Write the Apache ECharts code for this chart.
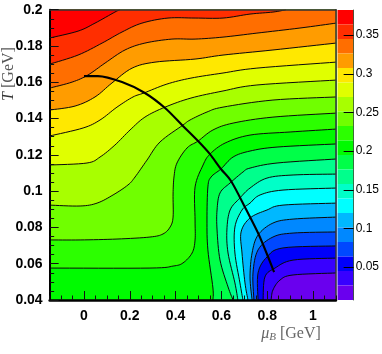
<!DOCTYPE html>
<html><head><meta charset="utf-8">
<style>html,body{margin:0;padding:0;background:#fff}#c{width:382px;height:354px}</style>
<script src="https://cdn.jsdelivr.net/npm/echarts@6/dist/echarts.min.js"></script>
</head><body><div id="c"></div>
<script>
const muTicks=[0,0.2,0.4,0.6,0.8,1];
const barTicks=[0.05,0.1,0.15,0.2,0.25,0.3,0.35];
const barEdges=[0.3825,0.36375,0.345,0.32625,0.3075,0.28875,0.27,0.25125,0.2325,0.21375,0.195,0.17625,0.1575,0.13875,0.12,0.10125,0.0825,0.06375,0.045,0.02625,0.0075];
const bandColors=['#ff0000','#ff2e00','#ff6e00','#ff9c00','#ffe800','#e0ff00','#a8ff00','#70ff00','#2cff00','#00fb00','#00ff48','#00ff8c','#00ffc8','#00ffff','#00b8ff','#0088ff','#0048ff','#0000fa','#3800ff','#6a00ee'];
const c01=[[-0.15,0.1844],[-0.026,0.1882],[0.048,0.1926],[0.135,0.1987],[0.157,0.2]];
const c02=[[-0.15,0.17],[-0.026,0.175],[0.079,0.1816],[0.166,0.1877],[0.253,0.1926],[0.367,0.1954],[0.485,0.1954],[0.607,0.1954],[0.725,0.1976],[0.825,0.1987],[0.882,0.2]];
const c03=[[-0.15,0.1568],[-0.052,0.1601],[0.017,0.164],[0.092,0.1706],[0.179,0.1778],[0.266,0.1816],[0.384,0.1838],[0.485,0.1838],[0.607,0.1849],[0.755,0.1871],[0.943,0.1899],[1.1,0.1926]];
const c04=[[-0.15,0.1447],[-0.039,0.1469],[0.048,0.1519],[0.122,0.1596],[0.21,0.1678],[0.31,0.1711],[0.485,0.1728],[0.607,0.175],[0.825,0.1778],[1.1,0.1816]];
const c05=[[-0.15,0.1304],[-0.004,0.1348],[0.07,0.1392],[0.144,0.1463],[0.214,0.1519],[0.262,0.1541],[0.362,0.159],[0.467,0.1623],[0.607,0.1651],[0.755,0.1678],[1.1,0.1711]];
const c06=[[-0.15,0.1144],[0.013,0.1155],[0.07,0.1188],[0.135,0.1254],[0.201,0.1337],[0.266,0.1408],[0.354,0.1463],[0.467,0.1513],[0.607,0.1552],[0.755,0.1585],[1.1,0.1612]];
const c07=[[-0.15,0.0923],[-0.017,0.0918],[0.057,0.0934],[0.127,0.0979],[0.192,0.1034],[0.223,0.1078],[0.275,0.1171],[0.332,0.1271],[0.432,0.1364],[0.463,0.1392],[0.537,0.1436],[0.607,0.1463],[0.825,0.1502],[1.1,0.1519]];
const c08=[[-0.15,0.0731],[-0.017,0.0731],[0.144,0.0736],[0.288,0.0747],[0.345,0.0764],[0.376,0.0802],[0.389,0.0857],[0.389,0.0984],[0.393,0.1078],[0.406,0.1155],[0.45,0.1238],[0.498,0.1276],[0.563,0.1337],[0.651,0.1375],[0.825,0.1408],[1.1,0.143]];
const c09=[[-0.15,0.0576],[0.288,0.0576],[0.389,0.0587],[0.432,0.0604],[0.472,0.0659],[0.485,0.0731],[0.485,0.0841],[0.485,0.1023],[0.52,0.1144],[0.55,0.1204],[0.616,0.1265],[0.725,0.1309],[0.9,0.1326],[1.1,0.1342]];
const c10=[[0.563,0.04],[0.563,0.0466],[0.541,0.0676],[0.537,0.0841],[0.541,0.1023],[0.555,0.1078],[0.598,0.1122],[0.651,0.1188],[0.725,0.1221],[0.843,0.1243],[1.1,0.126]];
const c11=[[0.651,0.04],[0.629,0.0472],[0.594,0.062],[0.581,0.0786],[0.581,0.0896],[0.594,0.099],[0.638,0.1045],[0.694,0.1105],[0.725,0.1127],[0.843,0.1155],[1.1,0.1177]];
const c12=[[0.672,0.04],[0.659,0.0494],[0.629,0.0659],[0.624,0.0786],[0.638,0.0896],[0.681,0.0962],[0.725,0.1017],[0.799,0.1072],[0.913,0.1089],[1.1,0.1094]];
const c13=[[0.694,0.04],[0.681,0.0494],[0.659,0.0659],[0.659,0.0802],[0.69,0.0896],[0.725,0.0934],[0.769,0.0979],[0.869,0.1006],[1.1,0.1017]];
const c14=[[0.716,0.04],[0.703,0.0494],[0.69,0.0659],[0.686,0.0775],[0.725,0.0852],[0.799,0.0896],[0.869,0.0923],[1.1,0.0934]];
const c15=[[0.734,0.04],[0.725,0.0527],[0.734,0.0659],[0.76,0.0758],[0.825,0.0824],[0.913,0.0846],[1.1,0.0857]];
const c16=[[0.742,0.04],[0.738,0.0549],[0.76,0.0676],[0.825,0.0747],[0.913,0.0769],[1.1,0.0775]];
const c17=[[0.76,0.04],[0.76,0.0549],[0.799,0.0637],[0.869,0.0687],[1.1,0.0698]];
const c18=[[0.782,0.04],[0.79,0.0527],[0.834,0.0576],[0.913,0.062],[1.1,0.0631]];
const c19=[[0.817,0.04],[0.825,0.0455],[0.856,0.051],[0.913,0.0538],[1.1,0.0549]];
const ridge=[[0,0.1634],[0.061,0.1634],[0.166,0.1601],[0.266,0.1541],[0.354,0.1458],[0.432,0.1359],[0.498,0.1276],[0.55,0.1204],[0.598,0.1122],[0.642,0.1056],[0.707,0.0901],[0.764,0.0758],[0.83,0.0554]];

const contours=[c01,c02,c03,c04,c05,c06,c07,c08,c09,c10,c11,c12,c13,c14,c15,c16,c17,c18,c19];
const muMin=-0.15,muMax=1.1,tMin=0.04,tMax=0.2;
const numFont='"Liberation Sans Narrow","Liberation Sans",Arial,sans-serif';
const serif='"Liberation Serif","DejaVu Serif",serif';

function spline(p){ // Catmull-Rom rendering of a polyline in pixels
  const out=[];
  for(let i=0;i<p.length-1;i++){
    const a=p[Math.max(i-1,0)],b=p[i],c=p[i+1],d=p[Math.min(i+2,p.length-1)];
    for(let s=0;s<8;s++){
      const t=s/8,t2=t*t,t3=t2*t;
      out.push([0,1].map(k=>0.5*(2*b[k]+(c[k]-a[k])*t+(2*a[k]-5*b[k]+4*c[k]-d[k])*t2+(3*b[k]-a[k]-3*c[k]+d[k])*t3)));
    }
  }
  out.push(p[p.length-1]);
  return out;
}
function fillItem(params,api){
  const i=params.dataIndex;
  const cs=i===0?null:contours[i-1];
  const color=bandColors[i===0?19:i-1];
  let pts;
  if(i===0){
    pts=[[muMin,tMin],[muMax,tMin],[muMax,tMax],[muMin,tMax]].map(q=>api.coord(q));
  }else{
    pts=spline(cs.map(q=>api.coord(q)));
    const s=cs[0],e=cs[cs.length-1];
    if(e[0]>=muMax) pts.push(api.coord([muMax,tMax]));
    pts.push(api.coord([muMin,tMax]));
    if(s[1]<=tMin) pts.push(api.coord([muMin,tMin]));
  }
  return {type:'polygon',shape:{points:pts},style:{fill:color,stroke:color,lineWidth:0.3}};
}
// painted from the lowest band upward
const fillOrder=contours.map((c,i)=>i+1);
function fillRender(params,api){
  // dataIndex 0 = whole plot in the lowest colour, then contour 19 ... contour 1
  const idx=params.dataIndex===0?0:20-params.dataIndex;
  return fillItem({dataIndex:idx},api);
}
function lineRender(params,api){
  const pts=spline(contours[params.dataIndex].map(q=>api.coord(q)));
  return {type:'polyline',shape:{points:pts},style:{fill:null,stroke:'#0a0a0a',lineWidth:1}};
}
function barRender(params,api){
  const i=params.dataIndex;
  const a=api.coord([0,barEdges[i]]),b=api.coord([1,barEdges[i+1]]);
  return {type:'rect',shape:{x:a[0],y:a[1],width:b[0]-a[0],height:b[1]-a[1]},style:{fill:bandColors[i]}};
}
const noPart={show:false};
const chart=echarts.init(document.getElementById('c'),null,{renderer:'canvas'});
chart.setOption({
  animation:false,
  backgroundColor:'#fff',
  grid:[
    {left:49.65,top:9.7,width:286.25,height:290.3},
    {left:337.5,top:10,width:18,height:290}
  ],
  xAxis:[
    {type:'value',gridIndex:0,min:muMin,max:muMax,position:'bottom',z:10,splitLine:noPart,
     axisLine:{show:true,onZero:false,lineStyle:{color:'#000',width:2.5}},
     axisTick:{show:true,inside:true,length:9,customValues:muTicks,lineStyle:{color:'#111',width:1}},
     axisLabel:{show:true,customValues:muTicks,margin:9,color:'#000',fontFamily:numFont,fontWeight:'bold',fontSize:14,formatter:v=>String(v)}},
    {type:'value',gridIndex:0,min:muMin,max:muMax,interval:0.05,position:'bottom',z:10,splitLine:noPart,
     axisLine:noPart,axisTick:{show:true,inside:true,length:4.5,lineStyle:{color:'#111',width:1}},axisLabel:noPart},
    {type:'value',gridIndex:0,min:muMin,max:muMax,position:'top',z:10,splitLine:noPart,
     axisLine:{show:true,onZero:false,lineStyle:{color:'#333',width:1.5}},axisTick:noPart,axisLabel:noPart},
    {type:'value',gridIndex:1,min:0,max:1,show:false,splitLine:noPart}
  ],
  yAxis:[
    {type:'value',gridIndex:0,min:tMin,max:tMax,interval:0.02,position:'left',z:10,splitLine:noPart,
     axisLine:{show:true,onZero:false,lineStyle:{color:'#000',width:2}},
     axisTick:{show:true,inside:true,length:9,lineStyle:{color:'#111',width:1}},
     minorTick:{show:true,splitNumber:4,length:4.5,lineStyle:{color:'#111',width:1}},
     axisLabel:{show:true,margin:7,color:'#000',fontFamily:numFont,fontWeight:'bold',fontSize:14,padding:[4,0,0,0],formatter:v=>String(v)}},
    {type:'value',gridIndex:0,min:tMin,max:tMax,position:'right',z:10,splitLine:noPart,
     axisLine:{show:true,onZero:false,lineStyle:{color:'#333',width:1.5}},axisTick:noPart,axisLabel:noPart},
    {type:'value',gridIndex:1,min:0.0075,max:0.3825,position:'right',z:10,splitLine:noPart,
     axisLine:{show:true,onZero:false,lineStyle:{color:'#2a4a2a',width:0.8}},
     axisTick:{show:true,inside:true,length:10,customValues:barTicks,lineStyle:{color:'#000',width:1}},
     axisLabel:{show:true,customValues:barTicks,margin:2,color:'#000',fontFamily:numFont,fontSize:12,formatter:v=>String(v)}}
  ],
  series:[
    {type:'custom',xAxisIndex:0,yAxisIndex:0,z:2,clip:true,renderItem:fillRender,data:[0].concat(fillOrder).map(i=>[0,0.1,i])},
    {type:'custom',xAxisIndex:0,yAxisIndex:0,z:3,clip:true,renderItem:lineRender,data:contours.map((c,i)=>[c[0][0],c[0][1],i])},
    {type:'line',xAxisIndex:0,yAxisIndex:0,z:4,data:ridge,smooth:0.3,showSymbol:false,lineStyle:{color:'#000',width:2.1},silent:true},
    {type:'custom',xAxisIndex:3,yAxisIndex:2,z:2,renderItem:barRender,data:bandColors.map((c,i)=>[0,barEdges[i],i])}
  ],
  graphic:[
    {type:'text',x:9,y:74,rotation:Math.PI/2,z:20,style:{
      text:'{i|T} [GeV]',align:'center',verticalAlign:'middle',fill:'#555',
      font:'16px '+serif,rich:{i:{fontStyle:'italic',fontFamily:serif,fontSize:16,fill:'#333'}}}},
    {type:'text',x:291,y:334,z:20,style:{
      text:'{i|μ}{s|B} [GeV]',align:'center',verticalAlign:'middle',fill:'#666',
      font:'16px '+serif,rich:{i:{fontStyle:'italic',fontFamily:serif,fontSize:16,fill:'#666'},s:{fontStyle:'italic',fontFamily:serif,fontSize:11,fill:'#666',padding:[7,0,0,0]}}}}
  ]
});
</script></body></html>
